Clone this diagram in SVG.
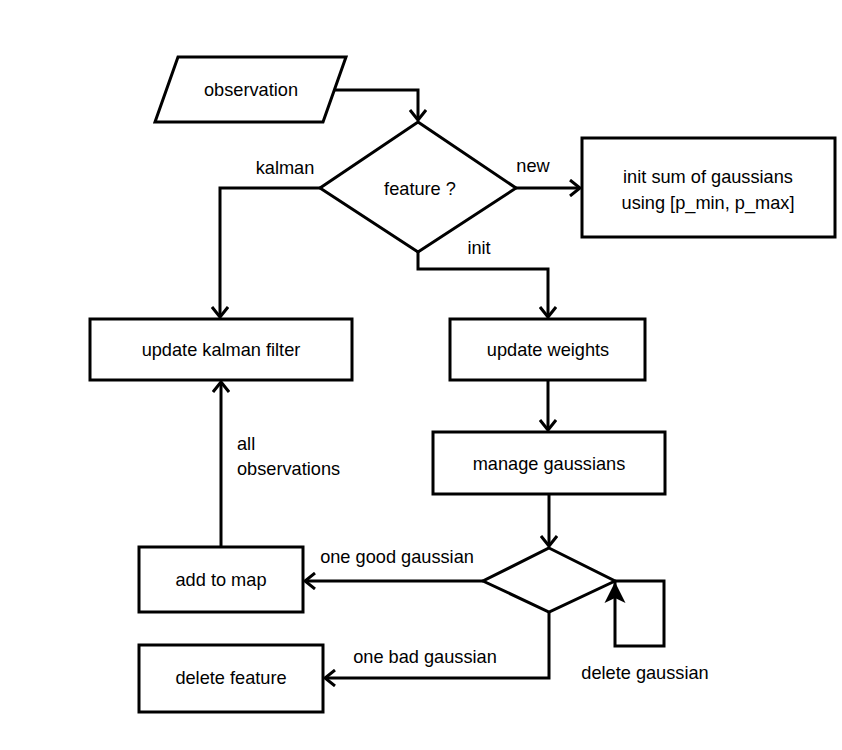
<svg xmlns="http://www.w3.org/2000/svg" width="842" height="750" viewBox="0 0 842 750">
<style>
.n{fill:#fff;stroke:#000;stroke-width:3}
.c{fill:none;stroke:#000;stroke-width:3}
text{font-family:"Liberation Sans",Arial,sans-serif;font-size:18.2px;fill:#000}
.m{text-anchor:middle}
</style>
<defs>
<marker id="open" markerWidth="14" markerHeight="18" refX="11" refY="9" orient="auto" markerUnits="userSpaceOnUse">
<path d="M1,1 L11,9 L1,17" fill="none" stroke="#000" stroke-width="3"/>
</marker>
<marker id="fill" markerWidth="22" markerHeight="22" refX="21" refY="11" orient="auto" markerUnits="userSpaceOnUse">
<path d="M0,0.5 L21,11 L0,21.5 L5,11 Z" fill="#000"/>
</marker>
</defs>
<rect width="842" height="750" fill="#fff"/>
<g id="connectors">
<path class="c" d="M335,90 H418 V120" marker-end="url(#open)"/>
<path class="c" d="M516,188 H580" marker-end="url(#open)"/>
<path class="c" d="M320,188 H220 V317" marker-end="url(#open)"/>
<path class="c" d="M418,252 V269 H548 V317" marker-end="url(#open)"/>
<path class="c" d="M548,380 V430" marker-end="url(#open)"/>
<path class="c" d="M549,494 V546" marker-end="url(#open)"/>
<path class="c" d="M483,581 H305" marker-end="url(#open)"/>
<path class="c" d="M615,581 H664 V646 H615 V582" marker-end="url(#fill)"/>
<path class="c" d="M221,547 V382" marker-end="url(#open)"/>
<path class="c" d="M549,612 V678 H325" marker-end="url(#open)"/>
<text x="285" y="174" class="m">kalman</text>
<text x="533" y="172" class="m">new</text>
<text x="479" y="254" class="m">init</text>
<text x="237" y="450">all</text>
<text x="237" y="475">observations</text>
<text x="397" y="563" class="m">one good gaussian</text>
<text x="425" y="663" class="m">one bad gaussian</text>
<text x="645" y="679" class="m">delete gaussian</text>
</g>
<g id="observation">
<polygon class="n" points="178,57 346,57 323,122 155,122"/>
<text x="251" y="96" class="m">observation</text>
</g>
<g id="feature">
<polygon class="n" points="418,122 516,188 418,252 320,188"/>
<text x="420" y="195" class="m">feature ?</text>
</g>
<g id="init-sum">
<rect class="n" x="582" y="138" width="253" height="99"/>
<text x="708" y="183" class="m">init sum of gaussians</text>
<text x="708" y="209" class="m">using [p_min, p_max]</text>
</g>
<g id="update-kalman">
<rect class="n" x="90" y="319" width="262" height="61"/>
<text x="221" y="356" class="m">update kalman filter</text>
</g>
<g id="update-weights">
<rect class="n" x="450" y="319" width="195" height="61"/>
<text x="548" y="356" class="m">update weights</text>
</g>
<g id="manage-gaussians">
<rect class="n" x="433" y="432" width="232" height="62"/>
<text x="549" y="470" class="m">manage gaussians</text>
</g>
<g id="decision">
<polygon class="n" points="549,548 615,581 549,612 483,581"/>
</g>
<g id="add-to-map">
<rect class="n" x="139" y="547" width="164" height="65"/>
<text x="221" y="586" class="m">add to map</text>
</g>
<g id="delete-feature">
<rect class="n" x="139" y="645" width="184" height="67"/>
<text x="231" y="684" class="m">delete feature</text>
</g>
</svg>
